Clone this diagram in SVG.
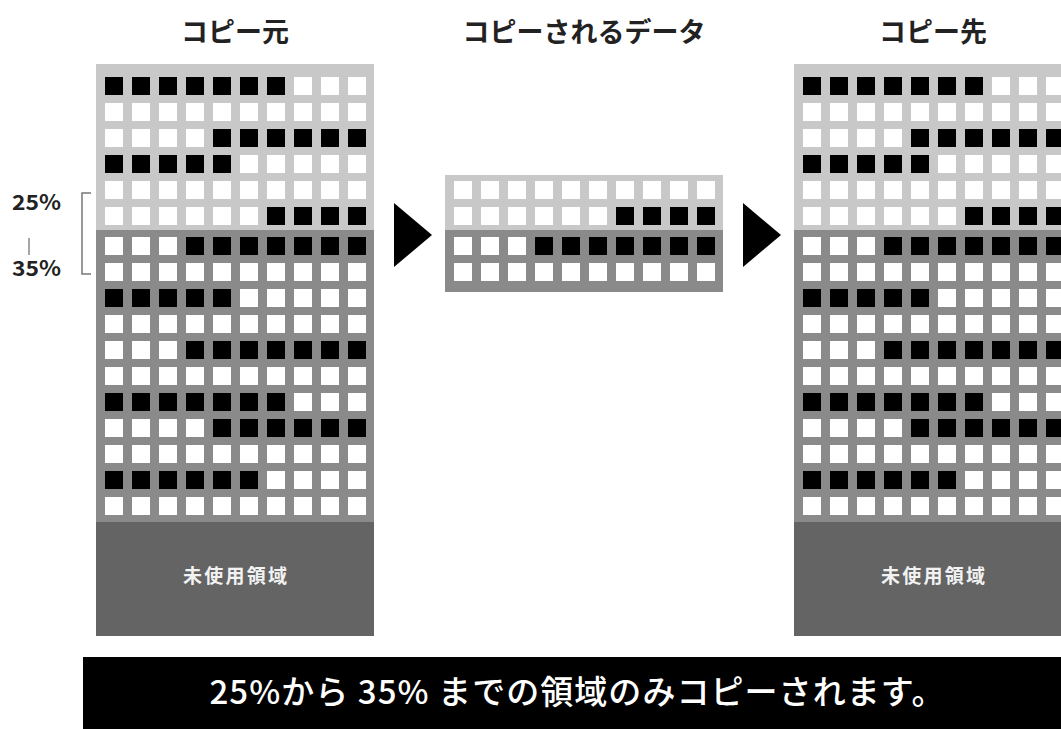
<svg xmlns="http://www.w3.org/2000/svg" width="1061" height="729" viewBox="0 0 1061 729">
<style>
.light{fill:#c8c8c8}
.dark{fill:#8a8a8a}
.unused{fill:#646464}
.wcells{fill:url(#cw)}
.bcells{fill:url(#cb)}
.title{font-family:"Noto Sans CJK JP","Noto Sans",sans-serif;font-size:27px;font-weight:700;fill:#222;text-anchor:middle}
.pct{font-family:"Noto Sans CJK JP","Noto Sans",sans-serif;font-size:21px;font-weight:700;fill:#222}
.ulabel{font-family:"Noto Sans CJK JP",sans-serif;font-size:19px;font-weight:700;fill:#f2f2f2;text-anchor:middle}
.banner{font-family:"Noto Sans CJK JP",sans-serif;font-size:33px;font-weight:500;fill:#fff;text-anchor:middle}
.arrow{fill:#000}
</style>
<defs>
<pattern id="cw" patternUnits="userSpaceOnUse" x="9" y="13" width="27" height="26"><rect width="18" height="18" fill="#fff"/></pattern>
<pattern id="cb" patternUnits="userSpaceOnUse" x="9" y="13" width="27" height="26"><rect width="18" height="18" fill="#000"/></pattern>
</defs>
<rect width="1061" height="729" fill="#fff"/>

<g id="title-source"><text class="title" x="235" y="30" dominant-baseline="central">コピー元</text></g>
<g id="title-data"><text class="title" x="584" y="30" dominant-baseline="central">コピーされるデータ</text></g>
<g id="title-dest"><text class="title" x="933" y="30" dominant-baseline="central">コピー先</text></g>

<g id="range-label">
<text class="pct" x="12" y="210" textLength="49" lengthAdjust="spacingAndGlyphs">25%</text>
<line x1="29" y1="238" x2="29" y2="255" stroke="#888" stroke-width="1.5"/>
<text class="pct" x="12" y="276" textLength="49" lengthAdjust="spacingAndGlyphs">35%</text>
<path d="M91,193 H82 V274 H91" fill="none" stroke="#777" stroke-width="1.5"/>
</g>

<g id="source" transform="translate(96,64)">
<rect class="light" x="0" y="0" width="278" height="166"/>
<rect class="dark" x="0" y="166" width="278" height="292"/>
<rect class="unused" x="0" y="458" width="278" height="114"/>
<rect class="wcells" x="9" y="13" width="270" height="156"/>
<rect class="bcells" x="9" y="13" width="189" height="26"/>
<rect class="bcells" x="117" y="65" width="162" height="26"/>
<rect class="bcells" x="9" y="91" width="135" height="26"/>
<rect class="bcells" x="171" y="143" width="108" height="26"/>
<g transform="translate(0,4)">
<rect class="wcells" x="9" y="169" width="270" height="286"/>
<rect class="bcells" x="90" y="169" width="189" height="26"/>
<rect class="bcells" x="9" y="221" width="135" height="26"/>
<rect class="bcells" x="90" y="273" width="189" height="26"/>
<rect class="bcells" x="9" y="325" width="189" height="26"/>
<rect class="bcells" x="117" y="351" width="162" height="26"/>
<rect class="bcells" x="9" y="403" width="162" height="26"/>
</g>
<text class="ulabel" x="139" y="510" dominant-baseline="central" textLength="104" lengthAdjust="spacing">未使用領域</text>
</g>

<g id="copied-data" transform="translate(445,168)">
<rect class="light" x="0" y="7" width="278" height="55"/>
<rect class="dark" x="0" y="62" width="278" height="62"/>
<rect class="wcells" x="9" y="13" width="270" height="52"/>
<rect class="bcells" x="171" y="39" width="108" height="26"/>
<g transform="translate(0,4)">
<rect class="wcells" x="9" y="65" width="270" height="52"/>
<rect class="bcells" x="90" y="65" width="189" height="26"/>
</g>
</g>

<g id="destination" transform="translate(794,64)">
<rect class="light" x="0" y="0" width="278" height="166"/>
<rect class="dark" x="0" y="166" width="278" height="292"/>
<rect class="unused" x="0" y="458" width="278" height="114"/>
<rect class="wcells" x="9" y="13" width="270" height="156"/>
<rect class="bcells" x="9" y="13" width="189" height="26"/>
<rect class="bcells" x="117" y="65" width="162" height="26"/>
<rect class="bcells" x="9" y="91" width="135" height="26"/>
<rect class="bcells" x="171" y="143" width="108" height="26"/>
<g transform="translate(0,4)">
<rect class="wcells" x="9" y="169" width="270" height="286"/>
<rect class="bcells" x="90" y="169" width="189" height="26"/>
<rect class="bcells" x="9" y="221" width="135" height="26"/>
<rect class="bcells" x="90" y="273" width="189" height="26"/>
<rect class="bcells" x="9" y="325" width="189" height="26"/>
<rect class="bcells" x="117" y="351" width="162" height="26"/>
<rect class="bcells" x="9" y="403" width="162" height="26"/>
</g>
<text class="ulabel" x="139" y="510" dominant-baseline="central" textLength="104" lengthAdjust="spacing">未使用領域</text>
</g>

<g id="connectors">
<polygon class="arrow" points="394,203 432,235 394,267"/>
<polygon class="arrow" points="743,203 781,235 743,267"/>
</g>

<g id="banner">
<rect x="83" y="657" width="978" height="72" fill="#000"/>
<text class="banner" x="577" y="704" textLength="735" lengthAdjust="spacing">25%から 35% までの領域のみコピーされます。</text>
</g>
</svg>
